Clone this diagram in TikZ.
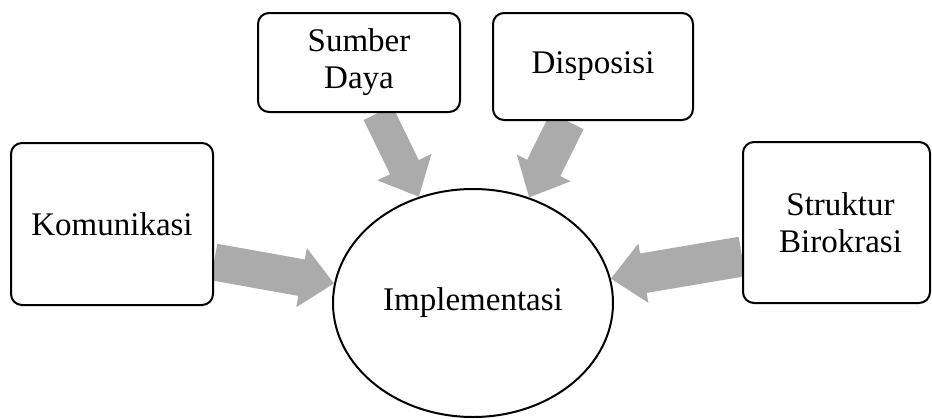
\documentclass[tikz,border=0pt]{standalone}
\usepackage{fontspec}
\setmainfont{Liberation Serif}
\usetikzlibrary{arrows.meta,backgrounds,shapes.geometric}
\begin{document}
\begin{tikzpicture}[x=1pt,y=-1pt,
  factorbox/.style={draw=black,line width=2pt,rounded corners=11pt,fill=white,
    inner sep=0pt,align=center,font=\fontsize{33}{37}\selectfont},
  centre/.style={draw=black,line width=2pt,ellipse,fill=white,inner sep=0pt,
    minimum width=280pt,minimum height=228pt,font=\fontsize{33}{37}\selectfont},
  bigarrow/.style={draw=black!33,line width=#1,line cap=butt,
    -{Triangle[length=33pt,width=58pt]}},
  bigarrow/.default=37pt]
\useasboundingbox (0,0) rectangle (932,418);
\node[factorbox,minimum width=202pt,minimum height=162pt] (kom) at (112,224) {Komunikasi};
\node[factorbox,minimum width=202pt,minimum height=99pt] (sd) at (359,62.5) {Sumber\\Daya};
\node[factorbox,minimum width=200pt,minimum height=107pt] (disp) at (593,66.5) {Disposisi};
\node[factorbox,minimum width=187pt,minimum height=161pt] (sk) at (836.5,222.5) {\hspace*{8pt}Struktur\\\hspace*{8pt}Birokrasi};
\node[centre] (imp) at (473,303) {Implementasi};
\begin{scope}[on background layer]
\draw[bigarrow] ([yshift=-38pt]kom.east) -- (imp.172);
\draw[bigarrow=32pt] ([xshift=19pt]sd.south) -- (imp.117);
\draw[bigarrow] ([xshift=-26pt]disp.south) -- (imp.62);
\draw[bigarrow=40pt] ([yshift=-34pt]sk.west) -- (imp.10);
\end{scope}
\end{tikzpicture}
\end{document}
